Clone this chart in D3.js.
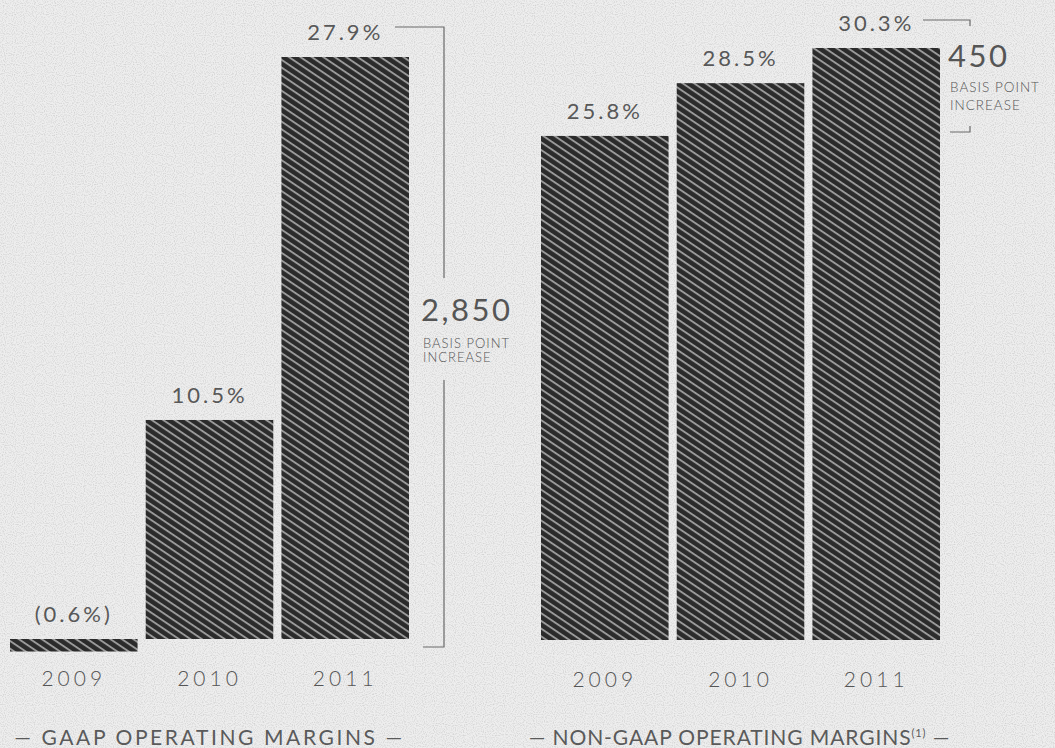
<!DOCTYPE html>
<html>
<head>
<meta charset="utf-8">
<script src="https://cdn.jsdelivr.net/npm/d3@7"></script>
<style>
  html, body { margin: 0; padding: 0; background: #e6e6e6; }
  svg { display: block; }
  text { font-family: Lato, "Open Sans", sans-serif; fill: #555; }
</style>
</head>
<body>
<div id="chart"></div>
<script>
// data
const years = ['2009', '2010', '2011'];
const gaapMargins = [-0.6, 10.5, 27.9];
const gaapLabels = ['(0.6%)', '10.5%', '27.9%'];
const nonGaapMargins = [25.8, 28.5, 30.3];
const nonGaapLabels = ['25.8%', '28.5%', '30.3%'];
const gaapIncrease = '2,850';
const nonGaapIncrease = '450';

const W = 1055, H = 748;

const svg = d3.select('#chart').append('svg')
    .attr('width', W)
    .attr('height', H);

const defs = svg.append('defs');

// diagonal hatch for the bars
const pat = defs.append('pattern')
    .attr('id', 'hatch')
    .attr('patternUnits', 'userSpaceOnUse')
    .attr('width', 6.4)
    .attr('height', 6.4)
    .attr('patternTransform', 'rotate(34)');
pat.append('rect').attr('width', 6.4).attr('height', 6.4).attr('fill', '#2b2b2b');
pat.append('rect').attr('y', 0).attr('width', 6.4).attr('height', 1.9).attr('fill', '#9a9a9a');

// paper grain
const grain = defs.append('filter').attr('id', 'grain')
    .attr('x', 0).attr('y', 0).attr('width', '100%').attr('height', '100%');
grain.append('feTurbulence')
    .attr('type', 'fractalNoise')
    .attr('baseFrequency', 0.9)
    .attr('numOctaves', 1)
    .attr('seed', 3);
grain.append('feColorMatrix')
    .attr('type', 'matrix')
    .attr('values', '0 0 0 0 0.45  0 0 0 0 0.45  0 0 0 0 0.45  0 0 0 -2.2 1.25');

svg.append('rect').attr('width', W).attr('height', H).attr('fill', '#eeeeee');
svg.append('rect').attr('width', W).attr('height', H).attr('filter', 'url(#grain)').attr('opacity', 0.55);

function drawPanel(opts) {
    const x = d3.scaleBand()
        .domain(years)
        .range(opts.xRange)
        .paddingInner(0.06)
        .paddingOuter(0);
    const y = d3.scaleLinear()
        .domain([0, d3.max(opts.values)])
        .range(opts.yRange);

    const g = svg.append('g');

    g.selectAll('rect.bar')
        .data(opts.values)
        .enter().append('rect')
        .attr('class', 'bar')
        .attr('x', (d, i) => x(years[i]))
        .attr('y', d => y(Math.max(0, d)))
        .attr('width', x.bandwidth())
        .attr('height', d => Math.abs(y(d) - y(0)))
        .attr('fill', 'url(#hatch)');

    // value labels
    g.selectAll('text.val')
        .data(opts.values)
        .enter().append('text')
        .attr('class', 'val')
        .attr('x', (d, i) => x(years[i]) + x.bandwidth() / 2)
        .attr('y', d => (d < 0 ? y(0) : y(d)) - 17)
        .attr('text-anchor', 'middle')
        .style('font-size', '22px')
        .style('letter-spacing', '3px')
        .style('fill', '#585858')
        .text((d, i) => opts.labels[i]);

    // year axis (no line)
    const axis = g.append('g')
        .attr('transform', 'translate(0,' + (y(0) + 47) + ')')
        .call(d3.axisBottom(x).tickSize(0).tickPadding(0));
    axis.select('.domain').remove();
    axis.selectAll('text')
        .attr('dy', 0)
        .style('font-family', 'Lato, sans-serif')
        .style('font-size', '21px')
        .style('font-weight', 300)
        .style('letter-spacing', '4px')
        .style('fill', '#555');

    // title
    g.append('text')
        .attr('x', (opts.xRange[0] + opts.xRange[1]) / 2 + opts.titleShift)
        .attr('y', 745)
        .attr('text-anchor', 'middle')
        .style('font-size', '21px')
        .style('letter-spacing', opts.titleSpacing)
        .style('fill', '#5a5a5a')
        .html(opts.title);

    return {x, y, g};
}

// left panel: GAAP
const left = drawPanel({
    values: gaapMargins,
    labels: gaapLabels,
    xRange: [10, 409],
    yRange: [639, 57],
    title: '— GAAP OPERATING MARGINS —',
    titleSpacing: '2.6px',
    titleShift: 0
});

const ly = left.y;
const bx = 444;
const lineStyle = s => s.attr('fill', 'none').attr('stroke', '#6a6a6a').attr('stroke-width', 1.2);
left.g.append('path').call(lineStyle)
    .attr('d', `M395,${ly(27.9) - 30}H${bx}V278`);
left.g.append('path').call(lineStyle)
    .attr('d', `M${bx},380V${ly(0) + 8}H423`);
left.g.append('text')
    .attr('x', 421).attr('y', 321)
    .style('font-size', '31px')
    .style('font-weight', 400)
    .style('letter-spacing', '2.5px')
    .style('fill', '#555')
    .text(gaapIncrease);
left.g.append('text')
    .attr('x', 423).attr('y', 348)
    .style('font-size', '13px').style('font-weight', 300)
    .style('letter-spacing', '1px')
    .text('BASIS POINT');
left.g.append('text')
    .attr('x', 423).attr('y', 362)
    .style('font-size', '13px').style('font-weight', 300)
    .style('letter-spacing', '1px')
    .text('INCREASE');

// right panel: non-GAAP
const right = drawPanel({
    values: nonGaapMargins,
    labels: nonGaapLabels,
    xRange: [541, 940],
    yRange: [640, 48],
    title: '— NON-GAAP OPERATING MARGINS<tspan dy="-8" font-size="11">(1)</tspan><tspan dy="8"> —</tspan>',
    titleSpacing: '0.9px',
    titleShift: -1
});

const ry = right.y;
right.g.append('path').call(lineStyle)
    .attr('d', `M923,${ry(30.3) - 28}H970V${ry(30.3) - 22}`);
right.g.append('path').call(lineStyle)
    .attr('d', 'M950,132H970V126');
right.g.append('text')
    .attr('x', 948).attr('y', 67)
    .style('font-size', '31px')
    .style('font-weight', 400)
    .style('letter-spacing', '2.5px')
    .style('fill', '#555')
    .text(nonGaapIncrease);
right.g.append('text')
    .attr('x', 950).attr('y', 92)
    .style('font-size', '13.5px').style('font-weight', 300)
    .style('letter-spacing', '1px')
    .text('BASIS POINT');
right.g.append('text')
    .attr('x', 950).attr('y', 110)
    .style('font-size', '13.5px').style('font-weight', 300)
    .style('letter-spacing', '1px')
    .text('INCREASE');
</script>
</body>
</html>
